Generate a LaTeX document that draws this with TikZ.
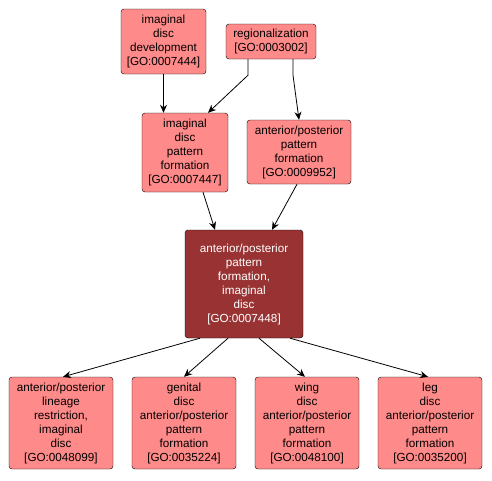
\documentclass[tikz,border=0pt]{standalone}
\usepackage{fontspec}
\setmainfont{Liberation Sans}
\usetikzlibrary{arrows.meta}
\definecolor{termfill}{HTML}{FF8A8A}
\definecolor{mainfill}{HTML}{993333}

\begin{document}
\begin{tikzpicture}[x=1pt,y=-1pt,
  term/.style={draw=black,fill=termfill,rounded corners=3pt,align=center,inner sep=0pt,font=\fontsize{11.7}{14}\selectfont},
  edge/.style={-{Stealth[length=8pt,width=7pt]},line width=0.8pt}]
\useasboundingbox (0,0) rectangle (492,480);
\node[term,minimum width=85pt,minimum height=65pt] (idd) at (163.5,41.5) {imaginal\\disc\\development\\{[GO:0007444]}};
\node[term,minimum width=90pt,minimum height=35pt] (reg) at (271,41.5) {regionalization\\{[GO:0003002]}};
\node[term,minimum width=86pt,minimum height=79pt] (idpf) at (185,152.5) {imaginal\\disc\\pattern\\formation\\{[GO:0007447]}};
\node[term,minimum width=104pt,minimum height=64pt] (appf) at (299,152) {anterior/posterior\\pattern\\formation\\{[GO:0009952]}};
\node[term,fill=mainfill,text=white,minimum width=118pt,minimum height=108pt] (apid) at (244,284) {anterior/posterior\\pattern\\formation,\\imaginal\\disc\\{[GO:0007448]}};
\node[term,minimum width=104pt,minimum height=92pt] (aplr) at (61,423) {anterior/posterior\\lineage\\restriction,\\imaginal\\disc\\{[GO:0048099]}};
\node[term,minimum width=104pt,minimum height=92pt] (gen) at (184,423) {genital\\disc\\anterior/posterior\\pattern\\formation\\{[GO:0035224]}};
\node[term,minimum width=104pt,minimum height=92pt] (wing) at (307,423) {wing\\disc\\anterior/posterior\\pattern\\formation\\{[GO:0048100]}};
\node[term,minimum width=104pt,minimum height=92pt] (leg) at (430,423) {leg\\disc\\anterior/posterior\\pattern\\formation\\{[GO:0035200]}};
% top part
\draw[edge] (idd.south) -- (idd.south |- idpf.north);
\draw[edge] ([xshift=-23pt]reg.south) -- ++(0,16) -- ([xshift=23pt]idpf.north);
\draw[edge] ([xshift=22pt]reg.south) -- ++(0,16) -- (appf.north);
\draw[edge] ([xshift=18pt]idpf.south) -- ([xshift=-29pt]apid.north);
\draw[edge] ([xshift=-2pt]appf.south) -- ([xshift=28pt]apid.north);
% bottom row
\draw[edge] ([xshift=-44pt]apid.south) -- ([xshift=2pt]aplr.north);
\draw[edge] ([xshift=-16pt]apid.south) -- (gen.north);
\draw[edge] ([xshift=15pt]apid.south) -- ([xshift=-2pt]wing.north);
\draw[edge] ([xshift=46pt]apid.south) -- ([xshift=-2pt]leg.north);
\end{tikzpicture}
\end{document}
